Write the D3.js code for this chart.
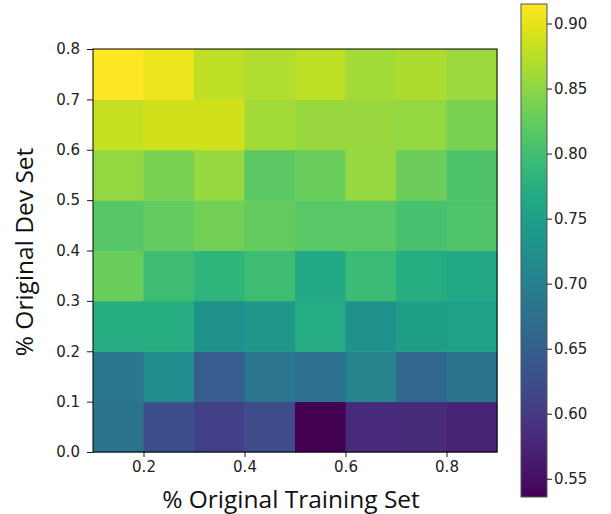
<!DOCTYPE html>
<html><head><meta charset="utf-8">
<script src="https://cdn.jsdelivr.net/npm/d3@7"></script>
<style>body{margin:0;background:#fff}svg{display:block}</style>
</head><body>
<svg id="c" width="611" height="514"></svg>
<script>
// Columns: % original training set (cell left edges), rows: % original dev set (cell bottom edges)
const trainEdges = [0.1, 0.2, 0.3, 0.4, 0.5, 0.6, 0.7, 0.8];
const devEdges = [0.0, 0.1, 0.2, 0.3, 0.4, 0.5, 0.6, 0.7];
const cellSize = 0.1;
// values[r][c] : r indexes devEdges (bottom to top), c indexes trainEdges
const values = [
  [0.680, 0.627, 0.608, 0.623, 0.536, 0.581, 0.583, 0.572],
  [0.688, 0.718, 0.646, 0.684, 0.678, 0.707, 0.661, 0.680],
  [0.771, 0.771, 0.729, 0.737, 0.769, 0.729, 0.748, 0.750],
  [0.828, 0.798, 0.782, 0.798, 0.763, 0.794, 0.771, 0.763],
  [0.815, 0.824, 0.834, 0.825, 0.816, 0.816, 0.805, 0.810],
  [0.853, 0.839, 0.855, 0.820, 0.828, 0.855, 0.830, 0.809],
  [0.881, 0.888, 0.887, 0.862, 0.856, 0.856, 0.853, 0.839],
  [0.915, 0.904, 0.877, 0.870, 0.877, 0.862, 0.868, 0.858]
];
const xTicks = [0.2, 0.4, 0.6, 0.8];
const yTicks = [0.0, 0.1, 0.2, 0.3, 0.4, 0.5, 0.6, 0.7, 0.8];
const cbTicks = [0.55, 0.60, 0.65, 0.70, 0.75, 0.80, 0.85, 0.90];
const colorDomain = [0.536, 0.915];
const xLabel = "% Original Training Set";
const yLabel = "% Original Dev Set";

const svg = d3.select("#c");
const L = 93, R = 497, T = 49, B = 452;
const x = d3.scaleLinear().domain([0.1, 0.9]).range([L, R]);
const y = d3.scaleLinear().domain([0.0, 0.8]).range([B, T]);
const color = d3.scaleSequential(d3.interpolateViridis).domain(colorDomain);

const cells = [];
values.forEach((row, r) => row.forEach((v, c) => cells.push({x0: trainEdges[c], y0: devEdges[r], v})));
svg.append("g").selectAll("rect").data(cells).join("rect")
  .attr("x", d => x(d.x0))
  .attr("y", d => y(d.y0 + cellSize))
  .attr("width", d => x(d.x0 + cellSize) - x(d.x0) + 0.5)
  .attr("height", d => y(d.y0) - y(d.y0 + cellSize) + 0.5)
  .attr("fill", d => color(d.v));

const tickFont = "DejaVu Sans, sans-serif";
const tickSize = 15;
const xAxis = svg.append("g").attr("transform", `translate(0,${B})`)
  .call(d3.axisBottom(x).tickValues(xTicks).tickFormat(d3.format(".1f")).tickSize(5).tickPadding(4));
const yAxis = svg.append("g").attr("transform", `translate(${L},0)`)
  .call(d3.axisLeft(y).tickValues(yTicks).tickFormat(d3.format(".1f")).tickSize(6).tickPadding(7));
[xAxis, yAxis].forEach(a => {
  a.select(".domain").remove();
  a.selectAll("line").attr("stroke", "#000").attr("stroke-width", 0.9);
  a.selectAll("text").attr("font-family", tickFont).attr("font-size", tickSize).attr("fill", "#222");
});
svg.append("rect").attr("x", L).attr("y", T).attr("width", R - L).attr("height", B - T)
  .attr("fill", "none").attr("stroke", "#000").attr("stroke-width", 1);

svg.append("text").attr("x", 291).attr("y", 507.5).attr("text-anchor", "middle")
  .attr("font-family", "Open Sans, sans-serif").attr("font-size", 24.5).attr("fill", "#111").text(xLabel);
svg.append("text").attr("transform", `translate(32.5,252) rotate(-90)`).attr("text-anchor", "middle")
  .attr("font-family", "Open Sans, sans-serif").attr("font-size", 24.5).attr("fill", "#111").text(yLabel);

// colorbar
const cbL = 521, cbR = 547, cbT = 4, cbB = 497;
const cy = d3.scaleLinear().domain(colorDomain).range([cbB, cbT]);
const defs = svg.append("defs");
const grad = defs.append("linearGradient").attr("id", "vg").attr("x1", 0).attr("y1", 1).attr("x2", 0).attr("y2", 0);
d3.range(0, 1.0001, 0.05).forEach(t => grad.append("stop").attr("offset", t).attr("stop-color", d3.interpolateViridis(t)));
svg.append("rect").attr("x", cbL).attr("y", cbT).attr("width", cbR - cbL).attr("height", cbB - cbT)
  .attr("fill", "url(#vg)").attr("stroke", "#555").attr("stroke-width", 1);
const cbAxis = svg.append("g").attr("transform", `translate(${cbR},0)`)
  .call(d3.axisRight(cy).tickValues(cbTicks).tickFormat(d3.format(".2f")).tickSize(5).tickPadding(2));
cbAxis.select(".domain").remove();
cbAxis.selectAll("line").attr("stroke", "#000").attr("stroke-width", 0.9);
cbAxis.selectAll("text").attr("font-family", tickFont).attr("font-size", tickSize).attr("fill", "#222");
</script>
</body></html>
